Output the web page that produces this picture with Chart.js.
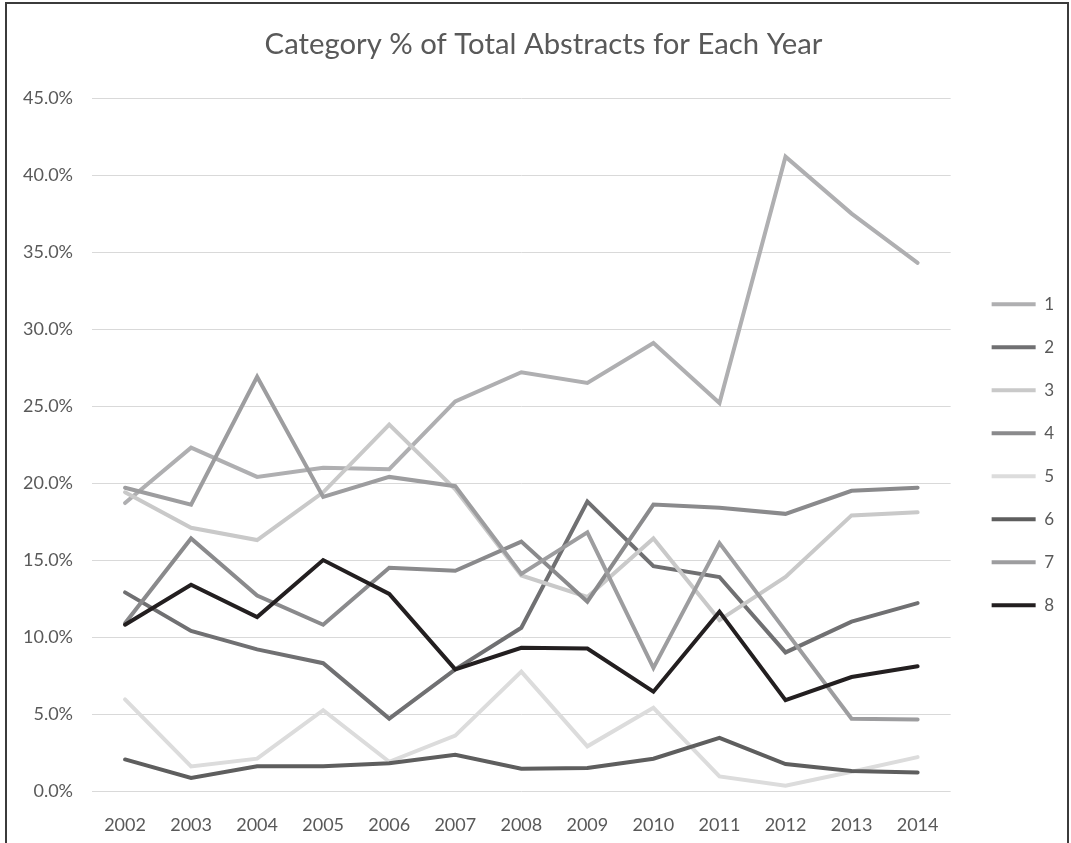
<!DOCTYPE html>
<html>
<head>
<meta charset="utf-8">
<script src="https://cdn.jsdelivr.net/npm/chart.js@4.4.1/dist/chart.umd.min.js"></script>
<style>
    body { margin: 0; background: #fff; }
    #frame {
        position: absolute; left: 5px; top: 2px;
        width: 1064px; height: 900px;
        border: 2px solid #3b3b3b; box-sizing: border-box;
    }
    #wrap { position: absolute; left: 0; top: 0; width: 1071px; height: 843px; }
</style>
</head>
<body>
<div id="frame"></div>
<div id="wrap"><canvas id="abstractsChart" width="1071" height="843"></canvas></div>
<script>
// Chart data (percent of total abstracts per year)
const years = ['2002', '2003', '2004', '2005', '2006', '2007', '2008', '2009', '2010', '2011', '2012', '2013', '2014'];
const categoryNames = ['1', '2', '3', '4', '5', '6', '7', '8'];
const cat1 = [18.7, 22.3, 20.4, 21.0, 20.9, 25.3, 27.2, 26.5, 29.1, 25.2, 41.2, 37.5, 34.3];
const cat2 = [12.9, 10.4, 9.2, 8.3, 4.7, 7.9, 10.6, 18.8, 14.6, 13.9, 9.0, 11.0, 12.2];
const cat3 = [19.4, 17.1, 16.3, 19.4, 23.8, 19.6, 14.0, 12.6, 16.4, 11.1, 13.9, 17.9, 18.1];
const cat4 = [10.9, 16.4, 12.7, 10.8, 14.5, 14.3, 16.2, 12.3, 18.6, 18.4, 18.0, 19.5, 19.7];
const cat5 = [5.95, 1.6, 2.1, 5.25, 1.9, 3.6, 7.75, 2.9, 5.4, 0.95, 0.35, 1.25, 2.2];
const cat6 = [2.05, 0.85, 1.6, 1.6, 1.8, 2.35, 1.45, 1.5, 2.1, 3.45, 1.75, 1.3, 1.2];
const cat7 = [19.7, 18.6, 26.9, 19.1, 20.4, 19.8, 14.1, 16.8, 8.0, 16.1, 10.4, 4.7, 4.65];
const cat8 = [10.8, 13.4, 11.3, 15.0, 12.8, 7.9, 9.3, 9.25, 6.45, 11.65, 5.9, 7.4, 8.1];
const yTicks = [0, 5, 10, 15, 20, 25, 30, 35, 40, 45];

const seriesValues = [cat1, cat2, cat3, cat4, cat5, cat6, cat7, cat8];
const seriesColors = ['#afafb1', '#707072', '#c9c9c9', '#8a8a8c', '#dcdcdc', '#5e5e5e', '#9d9d9f', '#231f20'];
const textColor = '#595959';
const fontFamily = 'Lato, "Open Sans", sans-serif';

const ctx = document.getElementById('abstractsChart').getContext('2d');
new Chart(ctx, {
    type: 'line',
    data: {
        labels: years,
        datasets: seriesValues.map((values, i) => ({
            label: categoryNames[i],
            data: values,
            borderColor: seriesColors[i],
            backgroundColor: seriesColors[i],
            borderWidth: 4,
            borderCapStyle: 'round',
            borderJoinStyle: 'miter',
            pointRadius: 0,
            pointHoverRadius: 0,
            tension: 0,
            fill: false,
            // later categories are drawn on top, like the original
            order: seriesValues.length - i
        }))
    },
    options: {
        responsive: false,
        animation: false,
        events: [],
        layout: { padding: { left: 23, right: 7, top: 0, bottom: 0 } },
        scales: {
            x: {
                offset: true,
                grid: { display: false },
                border: { display: false },
                ticks: { color: textColor, font: { family: fontFamily, size: 18 }, padding: 15, maxRotation: 0 },
                afterFit(scale) { scale.height = 52; }
            },
            y: {
                min: 0,
                max: 45,
                afterBuildTicks(scale) { scale.ticks = yTicks.map(v => ({ value: v })); },
                grid: { color: '#d9d9d9', lineWidth: 1, drawTicks: false },
                border: { display: false },
                ticks: {
                    color: textColor,
                    font: { family: fontFamily, size: 18 },
                    padding: 19,
                    callback: v => v.toFixed(1) + '%'
                },
                afterFit(scale) { scale.width = 69; }
            },
            // spacer between plot and legend
            gap: {
                position: 'right',
                display: true,
                min: 0,
                max: 1,
                grid: { display: false },
                border: { display: false },
                ticks: { display: false },
                afterFit(scale) { scale.width = 15; }
            }
        },
        plugins: {
            title: {
                display: true,
                text: 'Category % of Total Abstracts for Each Year',
                color: textColor,
                font: { family: fontFamily, size: 29.3, weight: 'normal', lineHeight: 1.2 },
                padding: { top: 27, bottom: 36 }
            },
            legend: {
                position: 'right',
                title: { display: true, text: '', padding: { top: 52, bottom: 0 } },
                labels: {
                    usePointStyle: true,
                    pointStyle: 'line',
                    pointStyleWidth: 44,
                    padding: 26,
                    color: textColor,
                    font: { family: fontFamily, size: 17 },
                    sort: (a, b) => a.datasetIndex - b.datasetIndex
                }
            },
            tooltip: { enabled: false }
        }
    }
});
</script>
</body>
</html>
